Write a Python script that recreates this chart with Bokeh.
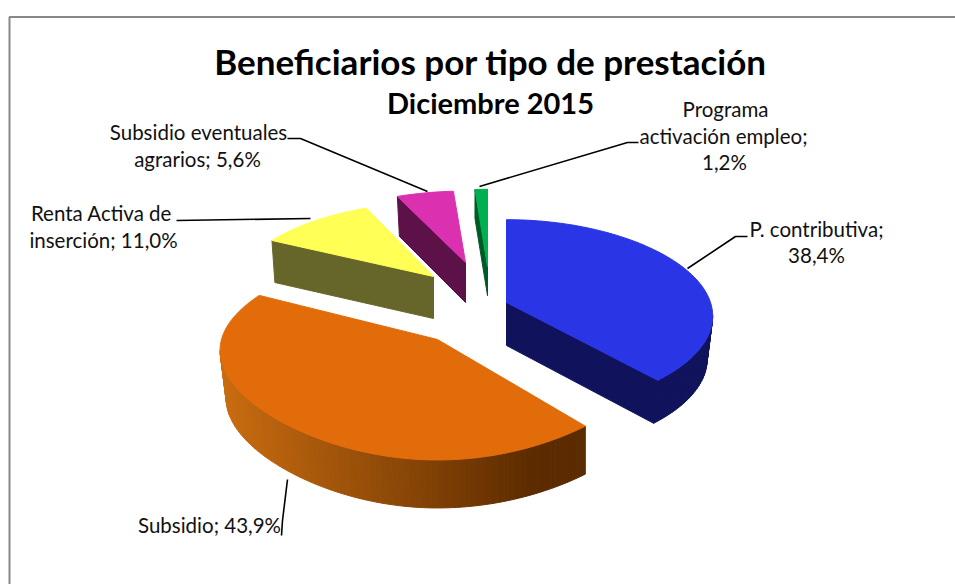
import math
from bokeh.plotting import figure
from bokeh.core.properties import value
from bokeh.embed import file_html
from bokeh.resources import INLINE

# ---- data ----
slice_names = ["P. contributiva", "Subsidio", "Renta Activa de inserción",
               "Subsidio eventuales agrarios", "Programa activación empleo"]
slice_values = [38.4, 43.9, 11.0, 5.6, 1.2]

# ---- style / layout of each slice (projection of the exploded 3D pie) ----
top_colors = ["#2A35E6", "#E26B0A", "#FFFF55", "#DB30B0", "#00B050"]
wall_from = ["#10135C", "#C96C10", "#66662A", "#5C1248", "#005A28"]
wall_to = ["#10135C", "#5C2B00", "#66662A", "#5C1248", "#005A28"]
apex_x = [506, 437, 433, 465, 487]
apex_y = [302, 339, 276, 262, 266]
radius_x = [204, 216, 196, 199, 205]
radius_y = [94, 106, 90, 87, 94]
persp_y = [0.135, 0.12, 0.218, 0.218, 0.218]
persp_xa = [0.148, 0.13, 0.19, 0.19, 0.19]
persp_xb = [0.0, 0.13, 0.0, 0.0, 0.0]
depth = [43, 48, 42, 40, 29]
taper_right = [0.973, 1.0, 1.0, 1.0, 1.0]
taper_left = [1.0, 0.972, 0.982, 0.97, 1.0]

FONT = "Lato"


def rgb(h):
    return [int(h[i:i + 2], 16) for i in (1, 3, 5)]


def mix(c0, c1, f):
    a, b = rgb(c0), rgb(c1)
    return "#%02x%02x%02x" % tuple(round(a[i] + (b[i] - a[i]) * f) for i in range(3))


p = figure(width=955, height=584, x_range=(0, 955), y_range=(584, 0),
           output_backend="svg", toolbar_location=None, min_border=0,
           outline_line_color=None, background_fill_color="white")
p.axis.visible = False
p.grid.visible = False

# frame: only its top and left sides are inside the picture
p.line([9, 9, 955], [584, 16.5, 16.5], line_color="#888888", line_width=2)

total = sum(slice_values)
start = 0.0
faces = []
for i, v in enumerate(slice_values):
    sweep = v / total * 2 * math.pi
    n = max(2, int(v * 2.4))
    pts = [(apex_x[i], apex_y[i])]
    for j in range(n + 1):
        th = start + sweep * j / n
        uu, vv = math.sin(th), -math.cos(th)
        sx = 1 + persp_xa[i] * vv - persp_xb[i] * vv * vv
        sy = 1 / (1 - persp_y[i] * vv)
        pts.append((apex_x[i] + radius_x[i] * uu * sx, apex_y[i] + radius_y[i] * vv * sy))
    faces.append(pts)
    start += sweep

for i in [1, 0, 2, 3, 4]:
    pts = faces[i]
    closed = pts + [pts[0]]
    xs_all = [q[0] for q in pts]
    x0, x1 = min(xs_all), max(xs_all)

    def low(x):
        t = taper_right[i] if x > apex_x[i] else taper_left[i]
        return apex_x[i] + (x - apex_x[i]) * t

    qx, qy, qc = [], [], []
    for a, b in zip(closed[:-1], closed[1:]):
        if b[0] < a[0]:  # edge runs leftwards: its wall faces the viewer
            f = min(1.0, ((a[0] + b[0]) / 2 - x0) / (0.86 * (x1 - x0)))
            qx.append([a[0], b[0], low(b[0]), low(a[0])])
            qy.append([a[1], b[1], b[1] + depth[i], a[1] + depth[i]])
            qc.append(mix(wall_from[i], wall_to[i], f))
    p.patches(qx, qy, fill_color=qc, line_color=qc, line_width=1)
    p.patch([q[0] for q in pts], [q[1] for q in pts], fill_color=top_colors[i],
            line_color=top_colors[i], line_width=1)

# leader lines
leaders = [
    ([747, 735, 687], [236, 236, 268]),
    ([287, 282, 281], [479, 520, 535]),
    ([176, 310], [220, 218]),
    ([287, 300, 427], [138, 138, 191]),
    ([638, 627, 479], [142, 142, 186]),
]
for lx, ly in leaders:
    p.line(lx, ly, line_color="black", line_width=1.6)

# texts
label_lines = ["P. contributiva;", "38,4%", "Subsidio; 43,9%", "Renta Activa de", "inserción; 11,0%",
               "Subsidio eventuales", "agrarios; 5,6%", "Programa", "activación empleo;", "1,2%"]
label_x = [816, 816, 209, 101, 103, 198, 197, 725, 723, 724]
label_y = [228, 254, 524, 212, 239, 131, 158, 108, 135, 161]
p.text(label_x, label_y, text=label_lines, text_font=value(FONT), text_font_size="20.5px",
       text_align="center", text_baseline="middle", text_color="#111111")
p.text([490], [60], text=["Beneficiarios por tipo de prestación"], text_font=value(FONT),
       text_font_size="35px", text_font_style="bold", text_align="center", text_baseline="middle",
       text_color="black")
p.text([490], [102], text=["Diciembre 2015"], text_font=value(FONT), text_font_size="29px",
       text_font_style="bold", text_align="center", text_baseline="middle", text_color="black")

open("out.html", "w").write(file_html(p, INLINE))
